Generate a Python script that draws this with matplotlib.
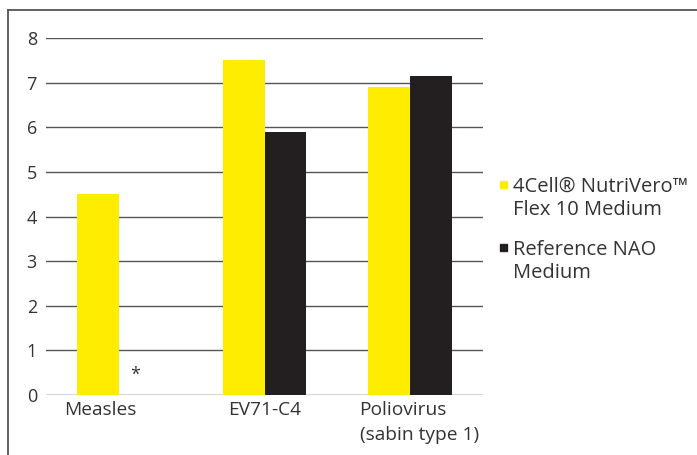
import matplotlib
matplotlib.use("Agg")
import matplotlib.pyplot as plt
from matplotlib.lines import Line2D
from matplotlib.patches import Rectangle
import matplotlib.transforms as mtransforms
import numpy as np

categories = ["Measles", "EV71-C4", "Poliovirus\n(sabin type 1)"]
nutrivero = [4.5, 7.5, 6.9]
reference = [np.nan, 5.9, 7.15]
series_names = ["4Cell\u00ae NutriVero\u2122\nFlex 10 Medium", "Reference NAO\nMedium"]
yticks = [0, 1, 2, 3, 4, 5, 6, 7, 8]

plt.rcParams['font.family'] = ['Open Sans', 'DejaVu Sans']
text_color = "#333333"
yellow = "#FFED00"
black = "#231F20"
colors = [yellow, black]

fig = plt.figure(figsize=(6.97, 4.55), dpi=100)
ax = fig.add_axes([46/697, 1 - 395/455, (483-46)/697, (395-38)/455])

x = np.arange(len(categories))
w = 0.287
ax.bar(x - w/2, nutrivero, w, color=yellow, zorder=3)
ax.bar(x + w/2, reference, w, color=black, zorder=3)
ax.text(x[0] + w/2 - 0.03, 0.45, "*", ha="center", va="center", fontsize=13, color=text_color)

ax.set_xlim(-0.5, 2.5)
ax.set_ylim(0, 8)
ax.set_yticks(yticks)
for t in yticks:
    ax.axhline(t, color="#555555" if t else "#333333", lw=1.0, zorder=1)
for s in ax.spines.values():
    s.set_visible(False)
ax.tick_params(axis="y", length=0, pad=6.5, labelsize=13, labelcolor=text_color)
ax.tick_params(axis="x", length=0, pad=4, labelsize=13.8, labelcolor=text_color)
ax.set_xticks(x)
ax.set_xticklabels(categories, multialignment="left", va="top", linespacing=1.5)
lbl0 = ax.get_xticklabels()[0]
lbl0.set_transform(lbl0.get_transform() + mtransforms.ScaledTranslation(-19/100, 0, fig.dpi_scale_trans))
lbl2 = ax.get_xticklabels()[2]
lbl2.set_transform(lbl2.get_transform() + mtransforms.ScaledTranslation(9/100, 0, fig.dpi_scale_trans))

# manual legend
baselines = [192, 255]
for name, col, yb in zip(series_names, colors, baselines):
    fig.text(513/697, 1 - (yb - 15)/455, name, ha="left", va="top", fontsize=14.5,
             color=text_color, linespacing=1.2)
    fig.add_artist(Rectangle((500/697, 1 - (yb - 4)/455), 7/697, 7/455,
                             transform=fig.transFigure, color=col))

fig.add_artist(Line2D([8/697, 8/697], [0, 1 - 10/455], color="#555555", lw=1.3))
fig.add_artist(Line2D([8/697, 1], [1 - 10/455, 1 - 10/455], color="#555555", lw=1.3))

fig.savefig("out.png", dpi=100)
